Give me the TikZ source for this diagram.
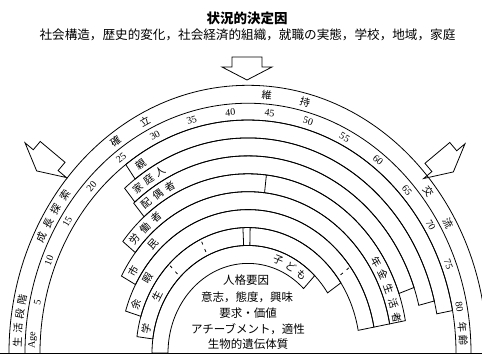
\documentclass[tikz,border=0pt]{standalone}
\usepackage{fontspec}
\setmainfont{Liberation Serif}
\newfontfamily\jp{Noto Sans CJK JP}
\newcounter{lblc}
\tikzset{
  rb/.style={line width=0.8pt},
  lbl/.style={inner sep=0pt, font=\jp\fontsize{10.2}{11}\selectfont},
  num/.style={inner sep=0pt, font=\fontsize{10}{11}\selectfont},
  dsh/.style={line width=0.8pt, dash pattern=on 0pt off 4pt on 3pt off 5pt on 3pt off 10pt},
  barrow/.style={line width=0.8pt, fill=white, line join=miter},
  inner/.style={inner sep=0pt, font=\jp\fontsize{11.5}{13}\selectfont},
}
\newcommand{\arctxt}[4][lbl]{%
  \pgfmathsetmacro{\rot}{atan2(-1.12*cos(#2), sin(#2))}%
  \stepcounter{lblc}%
  \node[#1, rotate=\rot] (t\arabic{lblc}) at (#2:#3) {#4};}
\newcommand{\band}[4]{%
  \draw[rb] (#3:#2) arc[start angle=#3, end angle=#4, radius=#2] -- (#4:#1)
    arc[start angle=#4, end angle=#3, radius=#1] -- cycle;}
\newcommand{\blockarrow}[5]{%
  \draw[barrow, shift={(#1,#2)}, rotate=#3, scale=#5] (-15,11) -- (15,11) -- (15,1) -- (25,1)
    -- (0,-12) coordinate (#4) -- (-25,1) -- (-15,1) -- cycle;}
\begin{document}
\begin{tikzpicture}[x=1pt,y=1pt]
\useasboundingbox (0,0) rectangle (482,356);
\clip (0,0) rectangle (482,356);
% title
\node[font=\jp\bfseries\fontsize{13.5}{15}\selectfont] (title) at (247,338) {状況的決定因};
\node[font=\jp\fontsize{12.6}{14}\selectfont] (sub) at (247.5,321) {社会構造，歴史的変化，社会経済的組織，就職の実態，学校，地域，家庭};
% arrows
\blockarrow{247}{288}{0}{tipT}{1}
\blockarrow{45}{195}{-40}{tipL}{1.08}
\blockarrow{445}{194}{40}{tipR}{1.08}
% base line
\coordinate (bl) at (0,3);
\coordinate (br) at (482,3);
\draw[rb] (bl) -- (br);
\begin{scope}[shift={(248,3)}, yscale=1.12]
  \draw[rb] (180:239) arc[start angle=180, end angle=0, radius=239];
  \draw[rb] (180:223) arc[start angle=180, end angle=0, radius=223];
  \draw[rb] (180:208) arc[start angle=180, end angle=0, radius=208];
  % role bands
  \band{192}{208}{126}{10.5}
  \band{176}{192}{130}{14}
  \band{160}{176}{130.5}{19.4}
  \band{144}{160}{141.5}{10.4}
  \band{128}{144}{151.5}{10.4}
  \band{112}{128}{163}{10.4}
  \band{96}{112}{172.5}{34}
  \band{80}{96}{180}{46}
  % bars
  \draw[rb] (83.4:144) -- (83.4:160);
  \draw[rb] (92.6:96) -- (92.6:112);
  \draw[rb] (88.9:96) -- (88.9:112);
  \draw[dsh] (135:96) -- (135:112);
  \draw[dsh] (115:96) -- (115:112);
  \draw[dsh] (37:112) -- (37:128);
  % life stages
  \arctxt{177.7}{231}{生}\arctxt{174.5}{231}{活}\arctxt{171.3}{231}{段}\arctxt{168.1}{231}{階}
  \arctxt{153.5}{231}{成}\arctxt{149.8}{231}{長}\arctxt{146.2}{231}{探}\arctxt{142.5}{231}{索}
  \arctxt{125}{231}{確}\arctxt{116.5}{231}{立}
  \arctxt{85.3}{231}{維}\arctxt{75.7}{231}{持}
  \arctxt{38.6}{231}{交}\arctxt{30}{231}{流}
  % ages
  \arctxt[num]{176.9}{215.5}{Age}
  \foreach \a in {5,10,...,80} {
    \pgfmathsetmacro{\th}{178.3-2.09*\a}
    \arctxt[num]{\th}{215.5}{\a}
  }
  \arctxt{6.1}{215.5}{年}\arctxt{2.9}{215.5}{齢}
  % roles
  \arctxt{122.5}{200}{親}
  \arctxt{126.8}{184}{家}\arctxt{122.7}{184}{庭}\arctxt{118.6}{184}{人}
  \arctxt{127.3}{168}{配}\arctxt{122.5}{168}{偶}\arctxt{117.7}{168}{者}
  \arctxt{138}{152}{労}\arctxt{132.6}{152}{働}\arctxt{127.3}{152}{者}
  \arctxt{147.5}{136}{市}\arctxt{134.4}{136}{民}
  \arctxt{159}{120}{余}\arctxt{146.4}{120}{暇}
  \arctxt{168}{104}{学}\arctxt{151}{104}{生}
  \arctxt{70}{88}{子}\arctxt{61}{88}{ど}\arctxt{52.6}{88}{も}
  \arctxt{32.5}{152}{年}\arctxt{27.4}{152}{金}\arctxt{22.2}{152}{生}\arctxt{17.1}{152}{活}\arctxt{12}{152}{者}
\end{scope}
% personal factors
\node[inner] (p1) at (246,76) {人格要因};
\node[inner] (p2) at (247,59) {意志，態度，興味};
\node[inner] (p3) at (248,43) {要求・価値};
\node[inner] (p4) at (248,27) {アチーブメント，適性};
\node[inner] (p5) at (248,12) {生物的遺伝体質};
\end{tikzpicture}
\end{document}
